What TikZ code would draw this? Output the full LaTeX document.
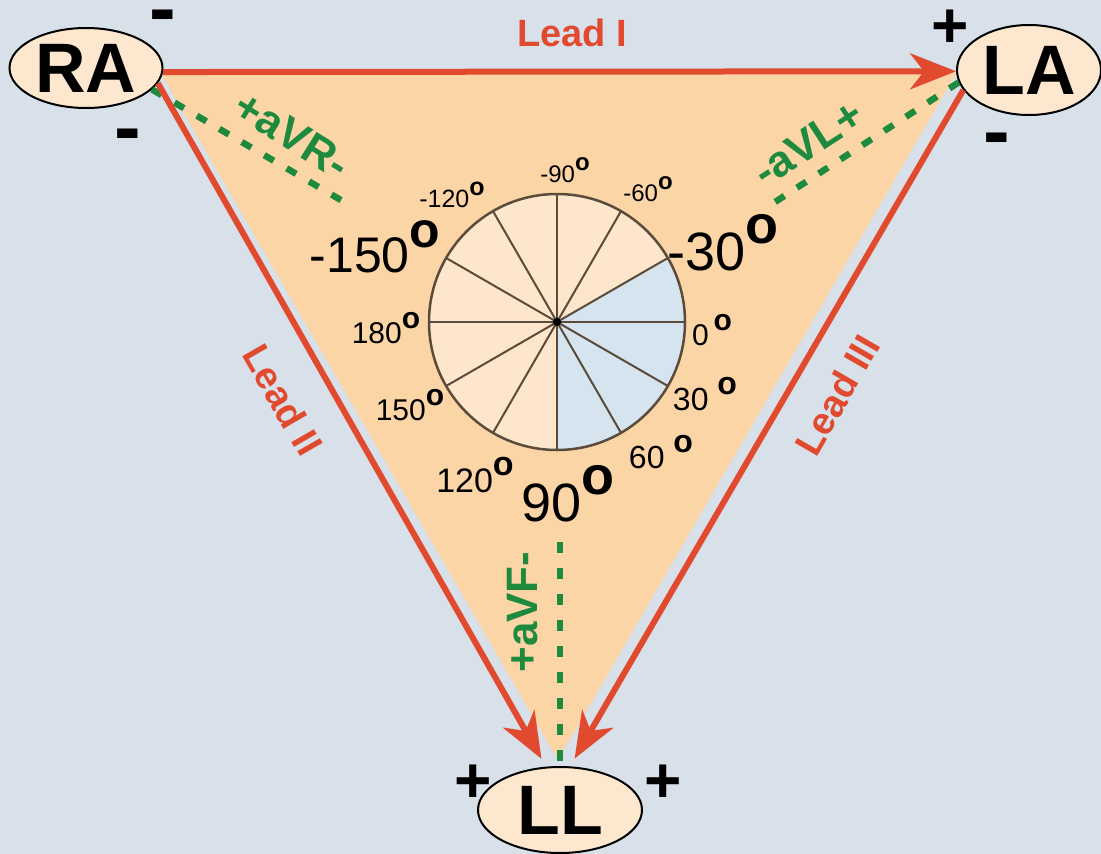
\documentclass[tikz,border=0pt]{standalone}
\usepackage{fontspec}
\setmainfont{Liberation Sans}
\usetikzlibrary{arrows.meta,shapes.geometric}
\definecolor{bg}{HTML}{D8E0E9}
\definecolor{tri}{HTML}{FCD5A7}
\definecolor{pale}{HTML}{FDE6CB}
\definecolor{bluesec}{HTML}{D5E4EF}
\definecolor{elfill}{HTML}{FDE7CF}
\definecolor{leadred}{HTML}{E24A30}
\definecolor{avgreen}{HTML}{1E8A3E}
\definecolor{spoke}{HTML}{5B4B3B}
\newcommand{\dg}{\raisebox{0.5em}{\bfseries o}}
\newcommand{\fs}[1]{\fontsize{#1}{#1}\selectfont}
\begin{document}
\begin{tikzpicture}[x=1pt,y=-1pt,
  limb/.style={ellipse,draw=black,line width=2pt,fill=elfill,inner sep=0pt,font=\fs{70}\bfseries},
  lead/.style={draw=leadred,line width=6pt,-{Stealth[length=46pt,width=36pt,inset=14pt]}},
  leadlbl/.style={text=leadred,font=\fs{38}\bfseries,inner sep=0pt},
  aug/.style={draw=avgreen,line width=6.5pt,dash pattern=on 11pt off 15pt},
  auglbl/.style={text=avgreen,font=\fs{44}\bfseries,inner sep=0pt},
  minus/.style={font=\fs{80}\bfseries,inner sep=0pt},
  plus/.style={font=\fs{64}\bfseries,inner sep=0pt},
  ang/.style={inner sep=0pt,text=black},
]
\useasboundingbox (0,0) rectangle (1101,854);
\fill[bg] (0,0) rectangle (1101,854);
\fill[tri] (160,72) -- (957,72) -- (558,760) -- cycle;

% angle circle
\coordinate (O) at (557,322);
\fill[pale] (O) circle[radius=128];
\begin{scope}
  \clip (O) circle[radius=128];
  \fill[bluesec] (O) -- +(-30:300) -- +(0:300) -- +(30:300) -- +(60:300) -- +(90:300) -- cycle;
\end{scope}
\foreach \a in {0,30,...,330} \draw[spoke,line width=2pt] (O) -- +(\a:128);
\draw[spoke,line width=2.5pt] (O) circle[radius=128];
\fill[black] (O) circle[radius=4];

% limb electrodes
\node[limb,minimum width=153pt,minimum height=80pt] (RA) at (86,68) {RA};
\node[limb,minimum width=144pt,minimum height=90pt] (LA) at (1029,70) {LA};
\node[limb,minimum width=164pt,minimum height=86pt] (LL) at (560,810) {LL};

% augmented leads
\coordinate (aVRend) at (351,206);
\coordinate (aVLend) at (772,204);
\coordinate (aVFtop) at (560,542);
\draw[aug] (RA.-18) -- (aVRend);
\draw[aug] (LA.190) -- (aVLend);
\draw[aug] (aVFtop) -- (LL.north);

% bipolar leads
\draw[lead] (RA.-3) -- (LA.181);
\draw[lead,shorten >=9pt] (RA.-12) -- (LL.108);
\draw[lead,shorten >=9pt] (LA.197) -- (LL.77);

% lead labels
\node[leadlbl] (l1) at (572,33) {Lead I};
\node[leadlbl,rotate=-60] (l2) at (283,400) {Lead II};
\node[leadlbl,rotate=60] (l3) at (837,395) {Lead III};
\node[auglbl,rotate=-32] (avr) at (292,135) {+aVR-};
\node[auglbl,rotate=33] (avl) at (808,143) {-aVL+};
\node[auglbl,rotate=90] (avf) at (523,612) {+aVF-};

% polarity signs
\node[minus] (raM1) at (163,23) {-};
\node[minus] (raM2) at (128,142) {-};
\node[plus] (laP) at (950,29) {+};
\node[minus] (laM) at (997,146) {-};
\node[plus] (llP1) at (473,784) {+};
\node[plus] (llP2) at (663,784) {+};

% angle labels
\node[ang,font=\fs{24}] (am90) at (565,170) {-90\dg};
\node[ang,font=\fs{24}] (am60) at (648,189) {-60\dg};
\node[ang,font=\fs{25}] (am120) at (452,195) {-120\dg};
\node[ang,font=\fs{50}] (am150) at (375,247) {-150\dg};
\node[ang,font=\fs{54}] (am30) at (723,243) {-30\dg};
\node[ang,font=\fs{30}] (a180) at (386,328) {180\dg};
\node[ang,font=\fs{30}] (a0) at (712,330) {0\,\dg};
\node[ang,font=\fs{30}] (a150) at (410,405) {150\dg};
\node[ang,font=\fs{34}] (a120) at (475,475) {120\dg};
\node[ang,font=\fs{54}] (a90) at (568,494) {90\dg};
\node[ang,font=\fs{32}] (a30) at (705,394) {30\ \dg};
\node[ang,font=\fs{32}] (a60) at (661,452) {60\ \dg};
\end{tikzpicture}
\end{document}
